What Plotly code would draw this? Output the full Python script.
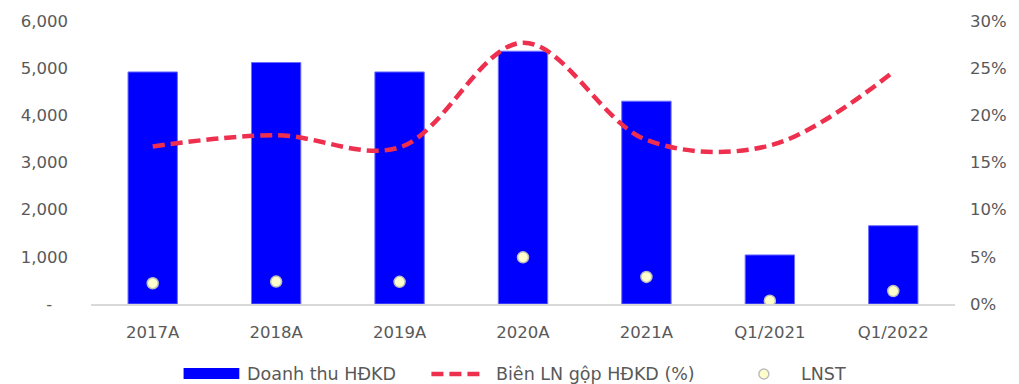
import plotly.graph_objects as go

categories = ["2017A", "2018A", "2019A", "2020A", "2021A", "Q1/2021", "Q1/2022"]
revenue = [4920, 5120, 4920, 5360, 4300, 1040, 1660]
gross_margin = [0.167, 0.179, 0.166, 0.277, 0.174, 0.168, 0.246]
net_profit = [440, 475, 470, 990, 575, 70, 275]

left_ticks = [0, 1000, 2000, 3000, 4000, 5000, 6000]
left_ticktext = ["-\u00a0\u00a0\u00a0", "1,000", "2,000", "3,000", "4,000", "5,000", "6,000"]
right_ticks = [0, 0.05, 0.10, 0.15, 0.20, 0.25, 0.30]

FONT = "DejaVu Sans"
GREY = "#595959"
W, H = 1019, 384
L, R, T, B = 91, 60, 21, 80
PW, PH = W - L - R, H - T - B

def xp(px):
    return (px - L) / PW

def yp(py):
    return (H - B - py) / PH

fig = go.Figure()
fig.add_trace(go.Bar(
    x=categories, y=revenue, name="Doanh thu HĐKD",
    marker=dict(color="#0000FF", line=dict(color="#6F6FFF", width=1)),
    width=0.4, yaxis="y",
))
fig.add_trace(go.Scatter(
    x=categories, y=gross_margin, name="Biên LN gộp HĐKD (%)",
    mode="lines", line=dict(color="#EE2F4E", width=4.5, dash="12px,6px", shape="spline", smoothing=1),
    yaxis="y2",
))
fig.add_trace(go.Scatter(
    x=categories, y=net_profit, name="LNST", mode="markers",
    marker=dict(size=11, color="#FFFFCC", line=dict(color="#BDBDBD", width=1.5)),
    yaxis="y",
))

# manual legend
LY = 374
shapes = [
    dict(type="rect", xref="paper", yref="paper", x0=xp(184), x1=xp(240), y0=yp(LY + 5), y1=yp(LY - 6),
         fillcolor="#0000FF", line=dict(width=0)),
    dict(type="line", xref="paper", yref="paper", x0=xp(433), x1=xp(487), y0=yp(LY), y1=yp(LY),
         line=dict(color="#EE2F4E", width=4.5, dash="12px,6px")),
    dict(type="circle", xref="paper", yref="paper", x0=xp(762), x1=xp(772), y0=yp(LY + 5), y1=yp(LY - 5),
         fillcolor="#FFFFCC", line=dict(color="#BDBDBD", width=1.5)),
]
annotations = [
    dict(text="Doanh thu HĐKD", x=xp(246), y=yp(LY)),
    dict(text="Biên LN gộp HĐKD (%)", x=xp(496), y=yp(LY)),
    dict(text="LNST", x=xp(802), y=yp(LY)),
]
for a in annotations:
    a.update(xref="paper", yref="paper", xanchor="left", yanchor="middle", showarrow=False,
             font=dict(family=FONT, size=17.5, color=GREY))

fig.update_layout(
    width=W, height=H,
    margin=dict(l=L, r=R, t=T, b=B, pad=0),
    paper_bgcolor="white", plot_bgcolor="white",
    showlegend=False,
    font=dict(family=FONT, size=16.5, color=GREY),
    bargap=0.6,
    xaxis=dict(showgrid=False, showline=True, linecolor="#D9D9D9", linewidth=1.5,
               ticks="", ticklabelstandoff=12, tickfont=dict(size=16.5, color=GREY)),
    yaxis=dict(range=[0, 6000], tickvals=left_ticks, ticktext=left_ticktext,
               showgrid=False, zeroline=False, showline=False, ticks="",
               ticklabelstandoff=22, tickfont=dict(size=16.5, color=GREY)),
    yaxis2=dict(range=[0, 0.30], tickvals=right_ticks, tickformat=".0%", overlaying="y", side="right",
                showgrid=False, zeroline=False, showline=False, ticks="",
                ticklabelstandoff=14, tickfont=dict(size=16.5, color=GREY)),
    shapes=shapes, annotations=annotations,
)

fig.write_html("out.html")
